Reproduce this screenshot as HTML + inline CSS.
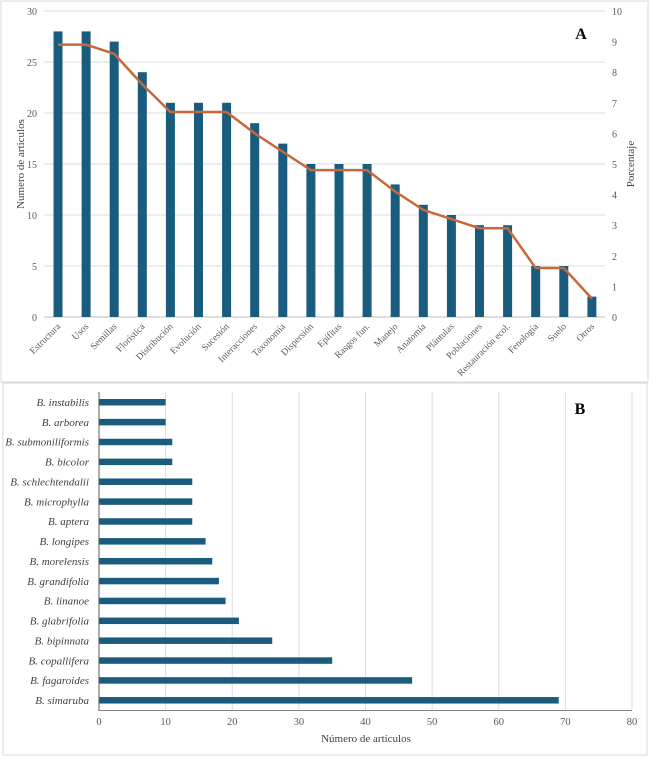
<!DOCTYPE html>
<html><head><meta charset="utf-8"><style>
body{margin:0;background:#fff;}
svg{display:block;font-family:"Liberation Serif",serif;}
</style></head><body>
<svg width="650" height="757">
<rect x="1" y="1" width="647" height="381" fill="none" stroke="#d9d9d9"/>
<rect x="3" y="383" width="644" height="372" fill="none" stroke="#d9d9d9"/>
<g id="chartA"></g>
<g id="chartB"></g>
</svg>
<script>
const catsA=["Estructura","Usos","Semillas","Florística","Distribución","Evolución","Sucesión","Interacciones","Taxonomía","Dispersión","Epífitas","Rasgos fun.","Manejo","Anatomía","Plántulas","Poblaciones","Restauración ecol.","Fenología","Suelo","Otros"];
const countsA=[28,28,27,24,21,21,21,19,17,15,15,15,13,11,10,9,9,5,5,2];
const pctA=[8.9,8.9,8.6,7.6,6.7,6.7,6.7,6.0,5.4,4.8,4.8,4.8,4.1,3.5,3.2,2.9,2.9,1.6,1.6,0.6];
const ticksLeftA=[0,5,10,15,20,25,30];
const ticksRightA=[0,1,2,3,4,5,6,7,8,9,10];
const catsB=["B. instabilis","B. arborea","B. submoniliformis","B. bicolor","B. schlechtendalii","B. microphylla","B. aptera","B. longipes","B. morelensis","B. grandifolia","B. linanoe","B. glabrifolia","B. bipinnata","B. copallifera","B. fagaroides","B. simaruba"];
const valsB=[10,10,11,11,14,14,14,16,17,18,19,21,26,35,47,69];
const ticksB=[0,10,20,30,40,50,60,70,80];
const NS="http://www.w3.org/2000/svg";
function mk(p,t,a,txt){const e=document.createElementNS(NS,t);for(const k in a)e.setAttribute(k,a[k]);if(txt!==undefined)e.textContent=txt;p.appendChild(e);return e;}
// Chart A
const A=document.getElementById('chartA');
const ay=v=>317-v/30*306, ayP=v=>317-v/10*306, ax=i=>58+i*28.1;
ticksLeftA.forEach(t=>{const l=mk(A,'line',{x1:44,x2:605,y1:ay(t),y2:ay(t),stroke:t?'#dedede':'#bfbfbf'});

const tx=mk(A,'text',{x:37,y:ay(t)+4,'font-size':10,fill:'#595959','text-anchor':'end'},t);
});
ticksRightA.forEach(t=>{const tx=mk(A,'text',{x:612,y:ayP(t)+4,'font-size':10,fill:'#595959'},t);
});
countsA.forEach((v,i)=>{const r=mk(A,'rect',{x:ax(i)-4.5,y:ay(v),width:9,height:ay(0)-ay(v),fill:'#1a5c7d'});

const tx=mk(A,'text',{x:ax(i)+3,y:327,'font-size':9.5,fill:'#595959','text-anchor':'end',transform:`rotate(-45 ${ax(i)+3} 327)`},catsA[i]);
});
const pl=mk(A,'polyline',{points:pctA.map((v,i)=>ax(i)+','+ayP(v)).join(' '),fill:'none',stroke:'#c8673a','stroke-width':2.5});

let t1=mk(A,'text',{x:24,y:164,'font-size':11,fill:'#404040','text-anchor':'middle',transform:'rotate(-90 24 164)'},'Numero de articulos');

let t2=mk(A,'text',{x:634,y:164,'font-size':11,fill:'#404040','text-anchor':'middle',transform:'rotate(-90 634 164)'},'Porcentaje');

let la=mk(A,'text',{x:581,y:39,'font-size':16,'font-weight':'bold',fill:'#000','text-anchor':'middle'},'A');

// Chart B
const B=document.getElementById('chartB');
const bx=v=>99+v/80*533, by=i=>402+i*19.87;
ticksB.forEach(t=>{if(t){const l=mk(B,'line',{x1:bx(t),x2:bx(t),y1:392,y2:710,stroke:'#dedede'});
}
const tx=mk(B,'text',{x:bx(t),y:725,'font-size':10.5,fill:'#595959','text-anchor':'middle'},t);
});
valsB.forEach((v,i)=>{const r=mk(B,'rect',{x:bx(0),y:by(i)-3,width:bx(v)-bx(0),height:6.5,fill:'#1a5c7d'});

const tx=mk(B,'text',{x:89,y:by(i)+4,'font-size':11,'font-style':'italic',fill:'#404040','text-anchor':'end'},catsB[i]);
});
let ax1=mk(B,'line',{x1:99,x2:99,y1:392,y2:711,stroke:'#595959'});
let ax2=mk(B,'line',{x1:99,x2:632,y1:710.5,y2:710.5,stroke:'#808080'});
let t3=mk(B,'text',{x:366,y:742,'font-size':11,fill:'#404040','text-anchor':'middle'},'Número de artículos');

let lb=mk(B,'text',{x:580,y:414,'font-size':16,'font-weight':'bold',fill:'#000','text-anchor':'middle'},'B');

</script>
</body></html>
